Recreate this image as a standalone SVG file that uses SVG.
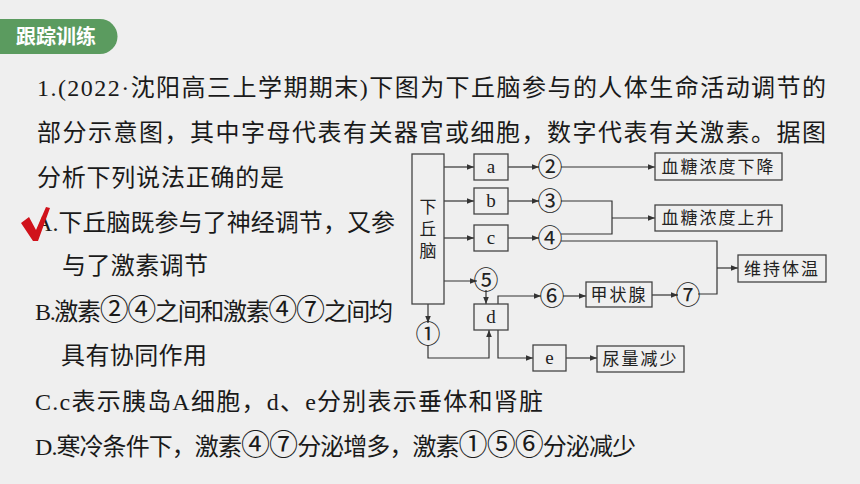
<svg xmlns="http://www.w3.org/2000/svg" width="860" height="484" viewBox="0 0 860 484">
<defs>
<marker id="ah" viewBox="0 0 10 10" refX="10" refY="5" markerWidth="7" markerHeight="7" markerUnits="userSpaceOnUse" orient="auto">
<path d="M0,1 L10,5 L0,9 Z" fill="#333"/>
</marker>
<style>
.t{font-family:"Liberation Serif","Noto Sans CJK SC",serif;font-size:24px;fill:#1a1a1a}
.cd{font-family:"Noto Sans CJK SC",sans-serif;font-size:29px}
.box{fill:none;stroke:#444;stroke-width:1.3}
.ln{fill:none;stroke:#333;stroke-width:1.2}
.arr{fill:none;stroke:#333;stroke-width:1.2;marker-end:url(#ah)}
.lt{font-family:"Liberation Serif","Noto Sans CJK SC",serif;font-size:19px;fill:#222;text-anchor:middle}
.cn{font-family:"Noto Sans CJK SC",sans-serif;font-size:25px;fill:#222;text-anchor:middle}
.bt{font-family:"Noto Sans CJK SC",sans-serif;font-size:17px;fill:#222;text-anchor:middle}
</style>
</defs>
<rect width="860" height="484" fill="#efefef"/>
<g id="header">
<path d="M0,19 H100 A17.5,17.5 0 0 1 100,54 H0 Z" fill="#5b9b5f"/>
<text x="56" y="44" font-family="Noto Sans CJK SC, sans-serif" font-size="20" font-weight="bold" fill="#fff" text-anchor="middle">跟踪训练</text>
</g>
<g id="question">
<text class="t" x="37" y="96" textLength="789" lengthAdjust="spacing">1.(2022·沈阳高三上学期期末)下图为下丘脑参与的人体生命活动调节的</text>
<text class="t" x="37" y="141" textLength="789" lengthAdjust="spacing">部分示意图，其中字母代表有关器官或细胞，数字代表有关激素。据图</text>
<text class="t" x="37" y="186" textLength="247" lengthAdjust="spacing">分析下列说法正确的是</text>
<text class="t" x="35" y="231" textLength="360" lengthAdjust="spacing">A.下丘脑既参与了神经调节，又参</text>
<text class="t" x="62" y="274" textLength="146" lengthAdjust="spacing">与了激素调节</text>
<text class="t" x="35" y="320" textLength="358" lengthAdjust="spacing">B.激素<tspan class="cd">②④</tspan>之间和激素<tspan class="cd">④⑦</tspan>之间均</text>
<text class="t" x="61" y="364" textLength="146" lengthAdjust="spacing">具有协同作用</text>
<text class="t" x="35" y="410" textLength="508" lengthAdjust="spacing">C.c表示胰岛A细胞，d、e分别表示垂体和肾脏</text>
<text class="t" x="35" y="455" textLength="601" lengthAdjust="spacing">D.寒冷条件下，激素<tspan class="cd">④⑦</tspan>分泌增多，激素<tspan class="cd">①⑤⑥</tspan>分泌减少</text>
</g>
<g id="checkmark">
<path d="M21,223 L29,217 L36,230 L46,207 L50,208 L38,241 L33,241 Z" fill="#d0121b"/>
</g>
<g id="connectors">
<line class="arr" x1="444" y1="167" x2="474" y2="167"/>
<line class="arr" x1="444" y1="201" x2="474" y2="201"/>
<line class="arr" x1="444" y1="238" x2="474" y2="238"/>
<line class="arr" x1="444" y1="281" x2="477" y2="281"/>
<line class="arr" x1="508" y1="167" x2="539" y2="167"/>
<line class="arr" x1="508" y1="201" x2="539" y2="201"/>
<line class="arr" x1="508" y1="238" x2="539" y2="238"/>
<line class="arr" x1="561" y1="167" x2="655" y2="167"/>
<polyline class="ln" points="561,201 612,201 612,234 561,234"/>
<line class="arr" x1="612" y1="218" x2="655" y2="218"/>
<polyline class="ln" points="561,241 717,241 717,294 698,294"/>
<line class="arr" x1="717" y1="268" x2="738" y2="268"/>
<line class="arr" x1="486" y1="290" x2="486" y2="304"/>
<line class="arr" x1="428" y1="304" x2="428" y2="323"/>
<polyline class="arr" points="428,345 428,358 489,358 489,330"/>
<polyline class="arr" points="498,304 498,296 541,296"/>
<line class="arr" x1="563" y1="296" x2="586" y2="296"/>
<line class="arr" x1="652" y1="295" x2="678" y2="295"/>
<polyline class="arr" points="498,330 498,358 533,358"/>
<line class="arr" x1="566" y1="358" x2="597" y2="358"/>
</g>
<g id="n-hypothalamus">
<rect class="box" x="412" y="154" width="32" height="150"/>
<text class="bt" x="428" y="198" style="writing-mode:vertical-rl;text-anchor:start" letter-spacing="5">下丘脑</text>
</g>
<g id="n-a"><rect class="box" x="474" y="154" width="34" height="26"/><text class="lt" x="491" y="173">a</text></g>
<g id="n-b"><rect class="box" x="474" y="188" width="34" height="26"/><text class="lt" x="491" y="207">b</text></g>
<g id="n-c"><rect class="box" x="474" y="225" width="34" height="26"/><text class="lt" x="491" y="244">c</text></g>
<g id="n-d"><rect class="box" x="474" y="304" width="34" height="26"/><text class="lt" x="491" y="323">d</text></g>
<g id="n-e"><rect class="box" x="533" y="345" width="33" height="26"/><text class="lt" x="549.5" y="364">e</text></g>
<g id="n-h2"><text class="cn" x="550" y="176">②</text></g>
<g id="n-h3"><text class="cn" x="550" y="210">③</text></g>
<g id="n-h4"><text class="cn" x="550" y="247">④</text></g>
<g id="n-h5"><text class="cn" x="486" y="289">⑤</text></g>
<g id="n-h1"><text class="cn" x="428" y="343">①</text></g>
<g id="n-h6"><text class="cn" x="552" y="305">⑥</text></g>
<g id="n-h7"><text class="cn" x="688" y="304">⑦</text></g>
<g id="n-down"><rect class="box" x="655" y="153" width="127" height="27"/><text class="bt" x="718.5" y="173" letter-spacing="2">血糖浓度下降</text></g>
<g id="n-up"><rect class="box" x="655" y="205" width="127" height="26"/><text class="bt" x="718.5" y="224" letter-spacing="2">血糖浓度上升</text></g>
<g id="n-temp"><rect class="box" x="738" y="255" width="88" height="27"/><text class="bt" x="782" y="275" letter-spacing="2">维持体温</text></g>
<g id="n-thyroid"><rect class="box" x="586" y="282" width="66" height="25"/><text class="bt" x="619" y="301" letter-spacing="2">甲状腺</text></g>
<g id="n-urine"><rect class="box" x="597" y="346" width="87" height="26"/><text class="bt" x="640.5" y="365" letter-spacing="2">尿量减少</text></g>
</svg>
